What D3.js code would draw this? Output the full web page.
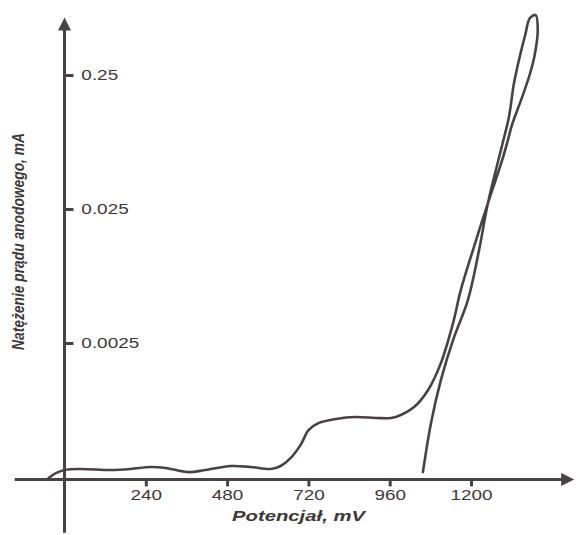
<!DOCTYPE html>
<meta charset="utf-8">
<html>
<head>
<title>Krzywa polaryzacji anodowej</title>
<script src="https://d3js.org/d3.v7.min.js"></script>
<style>
  body { margin: 0; background: #fff; }
  text { font-family: "Liberation Sans", Arial, sans-serif; fill: #3d3737; }
</style>
</head>
<body>
<svg width="576" height="535"></svg>
<script>
// forward scan (mV, mA)
var forwardMv = [-47, -24, 0, 47, 136, 195, 254, 299, 364, 417,
                 491, 550, 609, 638, 668, 697, 721, 751, 801, 860,
                 920, 964, 993, 1032, 1073, 1111, 1147, 1170, 1206, 1250,
                 1292, 1309, 1321, 1348, 1373, 1388, 1397, 1391];
var forwardMa = [0.000246, 0.000268, 0.000282, 0.000287, 0.000282, 0.000287, 0.000297, 0.000292, 0.000272, 0.000282,
                 0.000302, 0.000297, 0.000287, 0.000302, 0.000347, 0.000434, 0.000561, 0.000633, 0.000678, 0.000701,
                 0.000689, 0.000689, 0.000726, 0.000832, 0.00111, 0.00177, 0.00352, 0.00622, 0.0124, 0.0277,
                 0.0580, 0.0818, 0.106, 0.163, 0.25, 0.352, 0.542, 0.700];
// reverse scan
var reverseMv = [1374, 1360, 1345, 1327, 1312, 1292, 1250, 1224, 1191, 1147, 1111, 1082, 1058];
var reverseMa = [0.666, 0.497, 0.352, 0.218, 0.1215, 0.0751, 0.0277, 0.0124, 0.00524, 0.00263, 0.00132, 0.000633, 0.000272];

var xTicks = [240, 480, 720, 960, 1200];
var yTicks = [0.0025, 0.025, 0.25];
var yTickLabels = ["0.0025", "0.025", "0.25"];

var ink = "#4a4242";

var svg = d3.select("svg");

var x = d3.scaleLinear().domain([0, 1200]).range([64.5, 471]);
var y = d3.scaleLog().domain([0.25, 0.0025]).range([75, 343]);

// axis extents
var xLeft = -147, xRight = 1470, yBase = 0.00024, yTop = 0.70, yBottom = 0.000096;

var defs = svg.append("defs");
defs.append("marker")
    .attr("id", "arrow")
    .attr("viewBox", "0 0 10 10")
    .attr("refX", 1).attr("refY", 5)
    .attr("markerUnits", "userSpaceOnUse")
    .attr("markerWidth", 15).attr("markerHeight", 13)
    .attr("orient", "auto")
  .append("path")
    .attr("d", "M0,0 L10,5 L0,10 Z")
    .attr("fill", ink);

// x axis line
svg.append("line")
    .attr("x1", x(xLeft)).attr("x2", x(xRight))
    .attr("y1", y(yBase)).attr("y2", y(yBase))
    .attr("stroke", ink).attr("stroke-width", 3)
    .attr("marker-end", "url(#arrow)");

// y axis line
svg.append("line")
    .attr("x1", x(0)).attr("x2", x(0))
    .attr("y1", y(yBottom)).attr("y2", y(yTop) + 14)
    .attr("stroke", ink).attr("stroke-width", 3)
    .attr("marker-end", "url(#arrow)");

var gx = svg.append("g")
    .attr("transform", "translate(0," + y(yBase) + ")")
    .call(d3.axisBottom(x).tickValues(xTicks).tickSize(7).tickPadding(4).tickFormat(d3.format("d")));
gx.select(".domain").remove();
gx.selectAll(".tick line").attr("stroke", ink).attr("stroke-width", 3);
gx.selectAll(".tick text")
    .attr("font-size", 14)
    .attr("font-family", null)
    .attr("fill", null)
    .attr("transform", "scale(1.35,1)");

var gy = svg.append("g")
    .attr("transform", "translate(" + x(0) + ",0)")
    .call(d3.axisRight(y).tickValues(yTicks).tickSize(9).tickPadding(4)
        .tickFormat(function(d) { return yTickLabels[yTicks.indexOf(d)]; }));
gy.select(".domain").remove();
gy.selectAll(".tick line").attr("stroke", ink).attr("stroke-width", 3);
gy.selectAll(".tick text")
    .attr("font-size", 14)
    .attr("font-family", null)
    .attr("fill", null)
    .attr("x", 12.5)
    .attr("transform", "scale(1.35,1)");

// curve
var pts = forwardMv.map(function(v, i) { return [v, forwardMa[i]]; })
    .concat(reverseMv.map(function(v, i) { return [v, reverseMa[i]]; }));

var line = d3.line()
    .x(function(d) { return x(d[0]); })
    .y(function(d) { return y(d[1]); })
    .curve(d3.curveCatmullRom.alpha(0.5));

svg.append("path")
    .datum(pts)
    .attr("d", line)
    .attr("fill", "none")
    .attr("stroke", ink)
    .attr("stroke-width", 2.6)
    .attr("stroke-linejoin", "round")
    .attr("stroke-linecap", "round");

// titles
svg.append("text")
    .attr("x", 232).attr("y", 521)
    .attr("font-size", 14)
    .attr("font-weight", "bold")
    .attr("font-style", "italic")
    .attr("textLength", 133)
    .attr("lengthAdjust", "spacingAndGlyphs")
    .text("Potencjał, mV");

svg.append("text")
    .attr("transform", "translate(24,350) rotate(-90)")
    .attr("font-size", 16)
    .attr("font-weight", "bold")
    .attr("font-style", "italic")
    .attr("textLength", 217)
    .attr("lengthAdjust", "spacingAndGlyphs")
    .text("Natężenie prądu anodowego, mA");
</script>
</body>
</html>
